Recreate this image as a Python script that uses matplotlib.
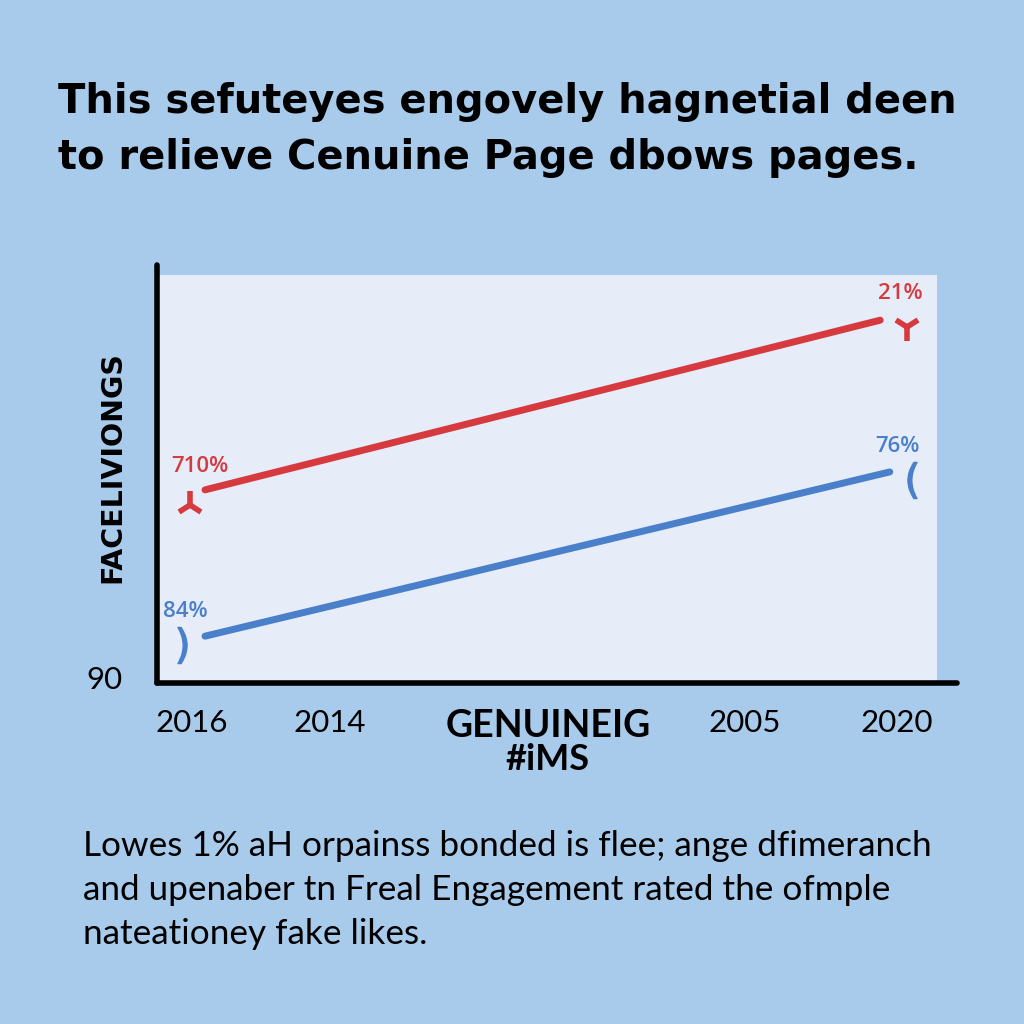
import matplotlib
matplotlib.use("Agg")
import matplotlib.pyplot as plt
from matplotlib.patches import Rectangle

# ---- data ----
x_ticks = [4.4, 21.6, 48.9, 73.5, 92.5]
x_labels = ["2016", "2014", "GENUINEIG", "2005", "2020"]
y_ticks = [1.2]
y_labels = ["90"]

red_x = [6.0, 90.4]
red_y = [46.2, 86.8]
blue_x = [6.0, 91.6]
blue_y = [11.2, 50.5]

red_marker_x = [4.1, 93.8]
red_marker_y = [42.6, 85.2]
blue_marker_x = [3.1, 94.4]
blue_marker_y = [9.1, 48.6]

red_labels = ["710%", "21%"]
red_label_x = [5.4, 92.9]
red_label_y = [51.7, 93.3]
blue_labels = ["84%", "76%"]
blue_label_x = [3.6, 92.5]
blue_label_y = [17.0, 56.5]

title = "This sefuteyes engovely hagnetial deen\nto relieve Cenuine Page dbows pages."
y_title = "FACELIVIONGS"
x_sub = "#iMS"
caption = ["Lowes 1% aH orpainss bonded is flee; ange dfimeranch",
           "and upenaber tn Freal Engagement rated the ofmple",
           "nateationey fake likes."]

BG = "#a8cbeb"
PLOT_BG = "#e6ecf8"
RED = "#d63a3f"
BLUE = "#4a7fca"

fig = plt.figure(figsize=(10.24, 10.24), dpi=100, facecolor=BG)
ax = fig.add_axes([157/1024, 1 - 683/1024, 800/1024, 418/1024])
ax.set_facecolor("none")
ax.set_xlim(0, 100)
ax.set_ylim(0, 100)
ax.add_patch(Rectangle((0, 0), 0.975, 0.976, transform=ax.transAxes,
                       facecolor=PLOT_BG, edgecolor="none", zorder=0))

for s in ["top", "right"]:
    ax.spines[s].set_visible(False)
for s in ["left", "bottom"]:
    ax.spines[s].set_linewidth(4)
    ax.spines[s].set_color("black")
    ax.spines[s].set_capstyle("round")

ax.plot(red_x, red_y, color=RED, lw=5, solid_capstyle="round", zorder=3)
ax.plot(blue_x, blue_y, color=BLUE, lw=5, solid_capstyle="round", zorder=3)

red_markers = ["2", "1"]
blue_markers = ["$)$", "$($"]
for mx, my, mk in zip(red_marker_x, red_marker_y, red_markers):
    ax.plot([mx], [my], marker=mk, color=RED, markersize=20,
            markeredgewidth=4, zorder=4)
for mx, my, mk in zip(blue_marker_x, blue_marker_y, blue_markers):
    ax.plot([mx], [my], marker=mk, color=BLUE, markersize=26, zorder=4)

for t, lx, ly in zip(red_labels, red_label_x, red_label_y):
    ax.text(lx, ly, t, color=RED, fontsize=16, fontweight="semibold",
            ha="center", va="center", family="Open Sans")
for t, lx, ly in zip(blue_labels, blue_label_x, blue_label_y):
    ax.text(lx, ly, t, color=BLUE, fontsize=16, fontweight="semibold",
            ha="center", va="center", family="Open Sans")

ax.set_xticks(x_ticks)
ax.set_xticklabels(x_labels, family="Lato", fontsize=22.5)
ax.get_xticklabels()[2].set_fontweight("bold")
ax.get_xticklabels()[2].set_fontsize(27)
ax.tick_params(axis="x", length=0, pad=19)
ax.set_yticks(y_ticks)
ax.set_yticklabels(y_labels, family="Lato", fontsize=22.5)
ax.tick_params(axis="y", length=0, pad=25)

fig.text(548/1024, 1 - 760/1024, x_sub, ha="center", va="center",
         fontsize=26, fontweight="bold", family="Lato")
fig.text(112/1024, 1 - 467/1024, y_title, ha="center", va="center",
         rotation=90, fontsize=20.5, fontweight="bold", family="DejaVu Sans")

fig.text(58/1024, 1 - 130/1024, title, ha="left", va="center",
         fontsize=28.8, fontweight="bold", family="DejaVu Sans", linespacing=1.5)

fig.text(83/1024, 1 - 890/1024, "\n".join(caption), ha="left", va="center",
         fontsize=25.3, family="Lato", linespacing=1.48)

fig.savefig("out.png", dpi=100, facecolor=BG)
